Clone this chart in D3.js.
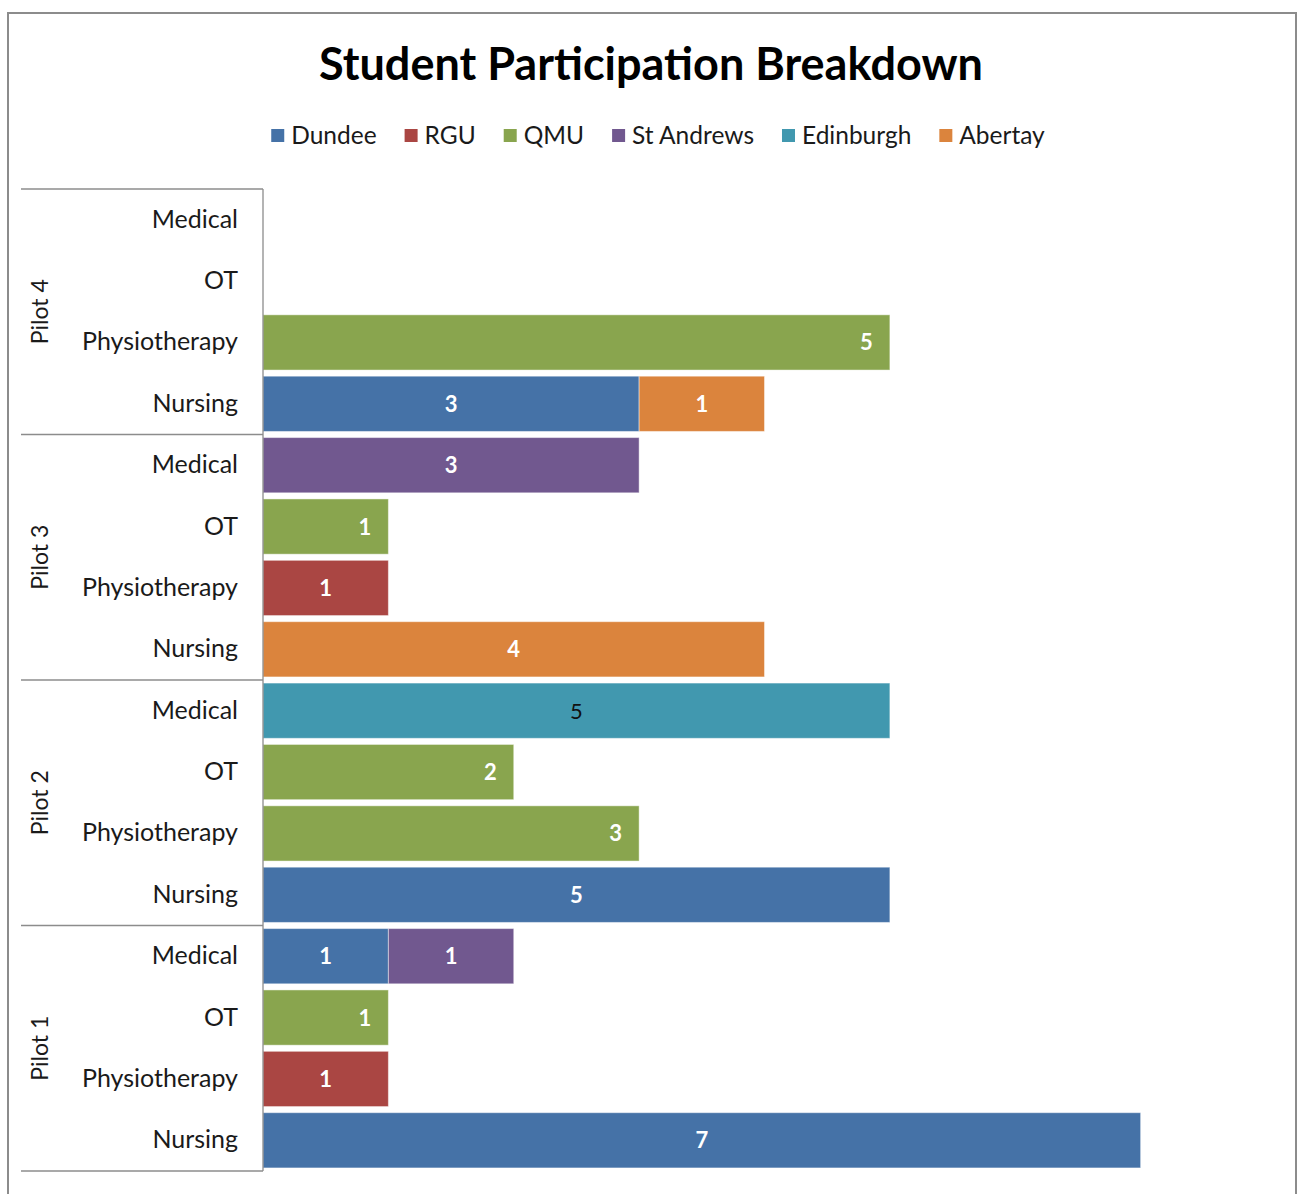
<!DOCTYPE html>
<html>
<head>
<meta charset="utf-8">
<script src="https://cdn.jsdelivr.net/npm/d3@7"></script>
<style>
  body { margin: 0; background: #fff; }
  text { font-family: Lato, "Open Sans", sans-serif; }
</style>
</head>
<body>
<div id="viz"></div>
<script>
const universities = ["Dundee", "RGU", "QMU", "St Andrews", "Edinburgh", "Abertay"]
const uniColors = ["#4572A7", "#AA4643", "#89A54E", "#71588F", "#4198AF", "#DB843D"]
const pilots = ["Pilot 4", "Pilot 3", "Pilot 2", "Pilot 1"]
const disciplines = ["Medical", "OT", "Physiotherapy", "Nursing"]

// one value per row, top row first (Pilot 4 Medical ... Pilot 1 Nursing)
const dundee     = [0, 0, 0, 3,  0, 0, 0, 0,  0, 0, 0, 5,  1, 0, 0, 7]
const rgu        = [0, 0, 0, 0,  0, 0, 1, 0,  0, 0, 0, 0,  0, 0, 1, 0]
const qmu        = [0, 0, 5, 0,  0, 1, 0, 0,  0, 2, 3, 0,  0, 1, 0, 0]
const stAndrews  = [0, 0, 0, 0,  3, 0, 0, 0,  0, 0, 0, 0,  1, 0, 0, 0]
const edinburgh  = [0, 0, 0, 0,  0, 0, 0, 0,  5, 0, 0, 0,  0, 0, 0, 0]
const abertay    = [0, 0, 0, 1,  0, 0, 0, 4,  0, 0, 0, 0,  0, 0, 0, 0]
const seriesValues = [dundee, rgu, qmu, stAndrews, edinburgh, abertay]

const width = 1303, height = 1194
const plot = { left: 263, right: 1266, top: 189, bottom: 1171 }

const svg = d3.select("#viz").append("svg")
    .attr("width", width).attr("height", height)

// outer chart frame
svg.append("rect").attr("x", 8).attr("y", 13).attr("width", 1288).attr("height", 1200)
    .attr("fill", "#fff").attr("stroke", "#8c8c8c").attr("stroke-width", 2)

// title
svg.append("text").attr("x", 651).attr("y", 80).attr("text-anchor", "middle")
    .style("font-size", "45px").style("font-weight", "bold").attr("fill", "#000")
    .text("Student Participation Breakdown")

// rows
const rows = []
pilots.forEach(p => disciplines.forEach(d => rows.push(p + "|" + d)))
const table = rows.map((r, i) => {
    const o = { row: r }
    universities.forEach((u, j) => o[u] = seriesValues[j][i])
    return o
})

const x = d3.scaleLinear().domain([0, 8]).range([plot.left, plot.right])
const y = d3.scaleBand().domain(rows).range([plot.top, plot.bottom])
    .paddingInner(0.1).paddingOuter(0.05)
const color = d3.scaleOrdinal().domain(universities).range(uniColors)

const stacked = d3.stack().keys(universities)(table)

const layers = svg.append("g").selectAll("g").data(stacked).join("g")
    .attr("fill", d => color(d.key))

layers.selectAll("rect").data(d => d.filter(s => s[1] - s[0] > 0)).join("rect")
    .attr("x", d => x(d[0]))
    .attr("y", d => y(d.data.row))
    .attr("width", d => x(d[1]) - x(d[0]))
    .attr("height", y.bandwidth())
    .attr("stroke", "rgba(255,255,255,0.45)").attr("stroke-width", 1)

// data labels: QMU sits at the inside end, the rest centred
layers.each(function(layer) {
    const key = layer.key
    d3.select(this).selectAll("text").data(layer.filter(s => s[1] - s[0] > 0)).join("text")
        .attr("x", d => key === "QMU" ? x(d[1]) - 17 : (x(d[0]) + x(d[1])) / 2)
        .attr("y", d => y(d.data.row) + y.bandwidth() / 2 + 8)
        .attr("text-anchor", key === "QMU" ? "end" : "middle")
        .attr("fill", key === "Edinburgh" ? "#111" : "#fff")
        .style("font-weight", key === "Edinburgh" ? "normal" : "bold")
        .style("font-size", "22px")
        .text(d => d[1] - d[0])
})

// category axis
const axis = svg.append("g").attr("stroke", "#8c8c8c").attr("stroke-width", 1.3)
axis.append("line").attr("x1", plot.left).attr("x2", plot.left)
    .attr("y1", plot.top).attr("y2", plot.bottom)
const step = (plot.bottom - plot.top) / pilots.length
d3.range(pilots.length + 1).forEach(i => {
    axis.append("line").attr("x1", 21).attr("x2", plot.left)
        .attr("y1", plot.top + i * step).attr("y2", plot.top + i * step)
})

svg.append("g").selectAll("text").data(rows).join("text")
    .attr("x", 238).attr("y", r => y(r) + y.bandwidth() / 2 + 8)
    .attr("text-anchor", "end").attr("fill", "#1a1a1a")
    .style("font-size", "25px")
    .text(r => r.split("|")[1])

svg.append("g").selectAll("text").data(pilots).join("text")
    .attr("transform", (p, i) => `translate(48,${plot.top + (i + 0.5) * step}) rotate(-90)`)
    .attr("text-anchor", "middle").attr("fill", "#1a1a1a")
    .style("font-size", "23px")
    .text(p => p)

// legend
const legend = svg.append("g")
let lx = 0
universities.forEach(u => {
    const g = legend.append("g").attr("transform", `translate(${lx},0)`)
    g.append("rect").attr("x", 0).attr("y", 129).attr("width", 13).attr("height", 13)
        .attr("fill", color(u))
    const t = g.append("text").attr("x", 20).attr("y", 144).attr("fill", "#1a1a1a")
        .style("font-size", "24.5px").text(u)
    lx += 20 + t.node().getComputedTextLength() + 28
})
const legendWidth = lx - 28
legend.attr("transform", `translate(${658 - legendWidth / 2},0)`)
</script>
</body>
</html>
